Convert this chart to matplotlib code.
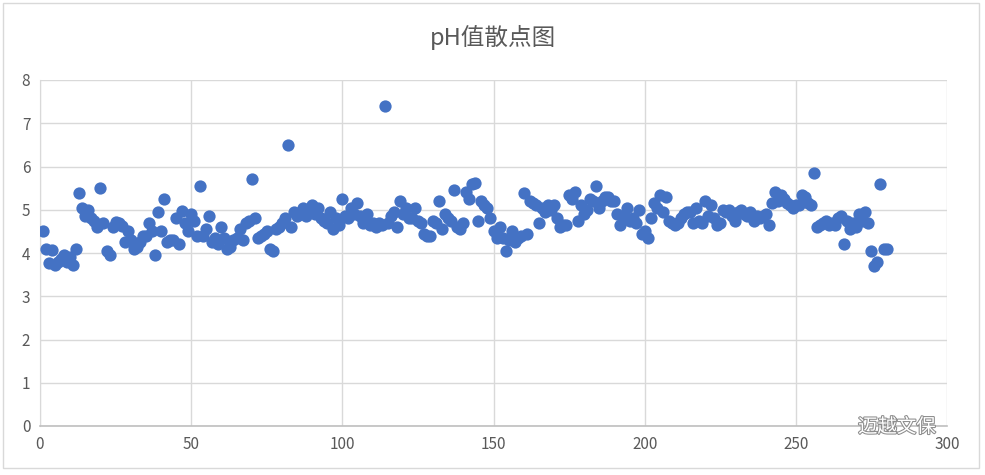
import numpy as np
import matplotlib.pyplot as plt
from matplotlib.patches import Rectangle
import matplotlib.patheffects as pe

plt.rcParams['font.family'] = ['Noto Sans CJK SC', 'DejaVu Sans']

title = 'pH值散点图'
watermark = '迈越文保'
x_ticks = [0, 50, 100, 150, 200, 250, 300]
y_ticks = [0, 1, 2, 3, 4, 5, 6, 7, 8]

# pH 值, 样品序号 1..280
ph = [
    4.50, 4.10, 3.78, 4.07, 3.72, 3.80, 3.85, 3.95, 3.80, 3.90,
    3.72, 4.10, 5.38, 5.05, 4.85, 5.00, 4.80, 4.75, 4.60, 5.50,
    4.70, 4.05, 3.95, 4.60, 4.72, 4.70, 4.62, 4.25, 4.50, 4.30,
    4.10, 4.15, 4.25, 4.40, 4.40, 4.70, 4.50, 3.95, 4.95, 4.52,
    5.25, 4.25, 4.30, 4.30, 4.80, 4.20, 4.98, 4.70, 4.50, 4.90,
    4.75, 4.40, 5.55, 4.40, 4.55, 4.85, 4.25, 4.35, 4.20, 4.60,
    4.35, 4.10, 4.15, 4.30, 4.35, 4.55, 4.30, 4.70, 4.75, 5.70,
    4.80, 4.35, 4.40, 4.45, 4.50, 4.10, 4.05, 4.55, 4.60, 4.70,
    4.80, 6.50, 4.60, 4.95, 4.85, 4.90, 5.05, 4.85, 5.00, 5.10,
    4.90, 5.05, 4.80, 4.75, 4.70, 4.95, 4.55, 4.80, 4.65, 5.25,
    4.85, 4.80, 5.05, 4.90, 5.15, 4.85, 4.70, 4.90, 4.65, 4.70,
    4.60, 4.70, 4.65, 7.40, 4.70, 4.85, 4.95, 4.60, 5.20, 4.90,
    5.05, 4.80, 4.80, 5.05, 4.75, 4.70, 4.45, 4.40, 4.40, 4.75,
    4.70, 5.20, 4.55, 4.90, 4.80, 4.75, 5.45, 4.60, 4.55, 4.70,
    5.40, 5.25, 5.60, 5.62, 4.75, 5.20, 5.10, 5.05, 4.80, 4.50,
    4.35, 4.60, 4.35, 4.05, 4.30, 4.50, 4.25, 4.35, 4.40, 5.38,
    4.45, 5.20, 5.15, 5.10, 4.70, 5.05, 4.95, 5.10, 5.00, 5.10,
    4.80, 4.60, 4.65, 4.65, 5.35, 5.25, 5.40, 4.75, 5.10, 4.90,
    5.00, 5.25, 5.20, 5.55, 5.05, 5.20, 5.30, 5.30, 5.20, 5.20,
    4.90, 4.65, 4.85, 5.05, 4.75, 4.80, 4.70, 5.00, 4.45, 4.50,
    4.35, 4.80, 5.15, 5.05, 5.35, 4.95, 5.30, 4.75, 4.70, 4.65,
    4.70, 4.80, 4.90, 4.95, 4.95, 4.70, 5.05, 4.75, 4.70, 5.20,
    4.85, 5.10, 4.80, 4.65, 4.70, 5.00, 4.95, 5.00, 4.85, 4.75,
    4.95, 5.00, 4.90, 4.85, 4.95, 4.75, 4.85, 4.80, 4.85, 4.90,
    4.65, 5.15, 5.40, 5.20, 5.35, 5.25, 5.15, 5.10, 5.05, 5.10,
    5.10, 5.35, 5.30, 5.15, 5.10, 5.85, 4.60, 4.65, 4.70, 4.75,
    4.65, 4.70, 4.65, 4.80, 4.85, 4.20, 4.75, 4.55, 4.70, 4.60,
    4.90, 4.75, 4.95, 4.70, 4.05, 3.70, 3.80, 5.60, 4.10, 4.10,
]
sample = np.arange(1, len(ph) + 1)

fig = plt.figure(figsize=(9.85, 4.75), dpi=100)
ax = fig.add_axes([40 / 985, 1 - 426 / 475, 907 / 985, 346 / 475])

ax.scatter(sample, ph, s=78, color='#4472C4', zorder=3, linewidths=0)

ax.set_xlim(0, 300)
ax.set_ylim(0, 8)
ax.set_xticks(x_ticks)
ax.set_yticks(y_ticks)
ax.grid(True, color='#D9D9D9', linewidth=1, zorder=0)
for s in ['top', 'right']:
    ax.spines[s].set_visible(False)
ax.spines['bottom'].set_color('#BFBFBF')
ax.spines['bottom'].set_linewidth(1.2)
ax.spines['left'].set_color('#D9D9D9')
ax.tick_params(length=0, labelsize=11, colors='#595959', pad=7)

fig.text(0.5, 1 - 37 / 475, title, ha='center', va='center',
         fontsize=17, color='#595959')

# watermark
fig.text(858 / 985, 1 - 427 / 475, watermark, ha='left', va='center',
         fontsize=14, color='white',
         path_effects=[pe.withStroke(linewidth=1.5, foreground='#8C8C8C')])

fig.patches.append(Rectangle((3 / 985, 7 / 475), 976 / 985, 465 / 475,
                             transform=fig.transFigure, fill=False,
                             edgecolor='#D9D9D9', linewidth=1))

fig.savefig('out.png', dpi=100)
